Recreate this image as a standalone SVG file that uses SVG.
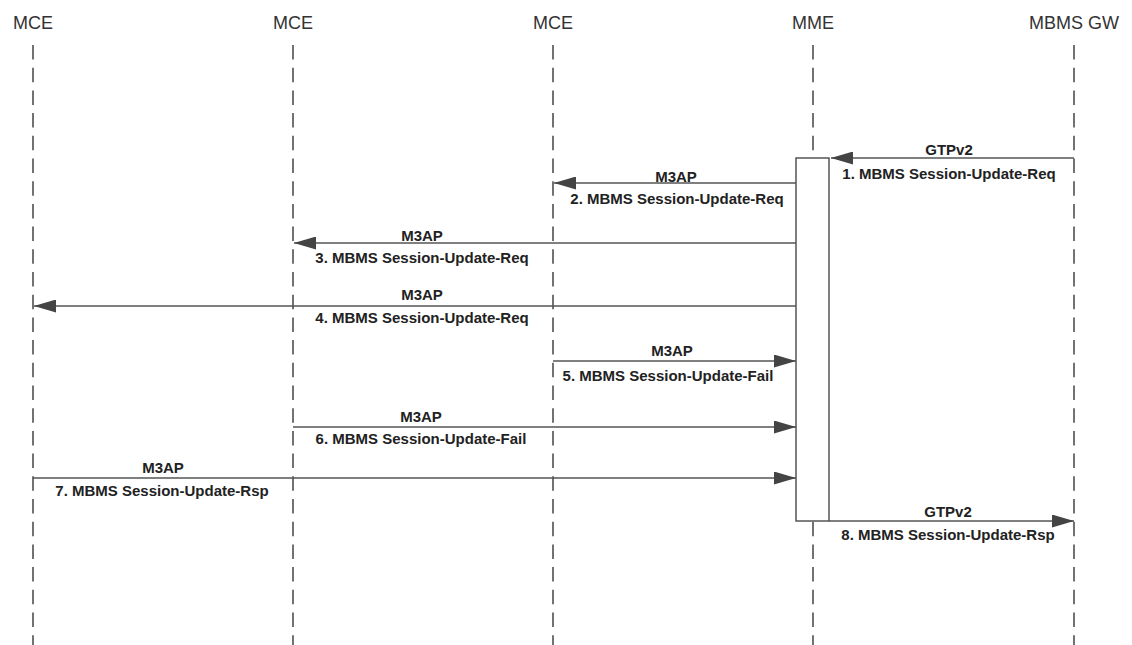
<svg xmlns="http://www.w3.org/2000/svg" width="1132" height="645" viewBox="0 0 1132 645">
<style>
.hdr{font-family:"Liberation Sans",Arial,sans-serif;font-size:18px;fill:#333;text-anchor:middle}
.life{stroke:#444;stroke-width:1.5;stroke-dasharray:14.5 8.2;fill:none}
.msg{stroke:#555;stroke-width:1.5;fill:none}
.lbl{font-family:"Liberation Sans",Arial,sans-serif;font-size:15px;font-weight:bold;fill:#222;text-anchor:middle}
.act{fill:#fff;stroke:#555;stroke-width:1.5}
</style>
<defs>
<marker id="ah" viewBox="0 0 22 13" refX="22" refY="6.5" markerWidth="22" markerHeight="13" markerUnits="userSpaceOnUse" orient="auto">
<path d="M0,0 L22,6.5 L0,13 Z" fill="#444"/>
</marker>
</defs>
<rect width="1132" height="645" fill="#fff"/>
<g id="mce1"><text class="hdr" x="33" y="29">MCE</text><line class="life" x1="33" y1="45" x2="33" y2="645"/></g>
<g id="mce2"><text class="hdr" x="293" y="29">MCE</text><line class="life" x1="293" y1="45" x2="293" y2="645"/></g>
<g id="mce3"><text class="hdr" x="553" y="29">MCE</text><line class="life" x1="553" y1="45" x2="553" y2="645"/></g>
<g id="mme"><text class="hdr" x="813" y="29">MME</text><line class="life" x1="813" y1="45" x2="813" y2="645"/>
<rect class="act" x="796" y="158" width="33" height="363"/></g>
<g id="mbmsgw"><text class="hdr" x="1074" y="29">MBMS GW</text><line class="life" x1="1074" y1="45" x2="1074" y2="645"/></g>
<g id="connectors">
<line class="msg" x1="1074" y1="158" x2="831" y2="158" marker-end="url(#ah)"/>
<text class="lbl" x="949" y="155">GTPv2</text>
<text class="lbl" x="949" y="178.5">1. MBMS Session-Update-Req</text>

<line class="msg" x1="796" y1="183" x2="554" y2="183" marker-end="url(#ah)"/>
<text class="lbl" x="676" y="181.5">M3AP</text>
<text class="lbl" x="677" y="204">2. MBMS Session-Update-Req</text>

<line class="msg" x1="796" y1="243" x2="294" y2="243" marker-end="url(#ah)"/>
<text class="lbl" x="422" y="240.5">M3AP</text>
<text class="lbl" x="422" y="262.5">3. MBMS Session-Update-Req</text>

<line class="msg" x1="796" y1="306" x2="34" y2="306" marker-end="url(#ah)"/>
<text class="lbl" x="422" y="300">M3AP</text>
<text class="lbl" x="422" y="323">4. MBMS Session-Update-Req</text>

<line class="msg" x1="553" y1="361" x2="796" y2="361" marker-end="url(#ah)"/>
<text class="lbl" x="672" y="355.5">M3AP</text>
<text class="lbl" x="668" y="380.5">5. MBMS Session-Update-Fail</text>

<line class="msg" x1="293" y1="427" x2="796" y2="427" marker-end="url(#ah)"/>
<text class="lbl" x="421" y="421.5">M3AP</text>
<text class="lbl" x="421" y="444">6. MBMS Session-Update-Fail</text>

<line class="msg" x1="33" y1="478" x2="796" y2="478" marker-end="url(#ah)"/>
<text class="lbl" x="163" y="473">M3AP</text>
<text class="lbl" x="162" y="496">7. MBMS Session-Update-Rsp</text>

<line class="msg" x1="829" y1="521" x2="1074" y2="521" marker-end="url(#ah)"/>
<text class="lbl" x="948" y="516.5">GTPv2</text>
<text class="lbl" x="948" y="539.5">8. MBMS Session-Update-Rsp</text>
</g>
</svg>
